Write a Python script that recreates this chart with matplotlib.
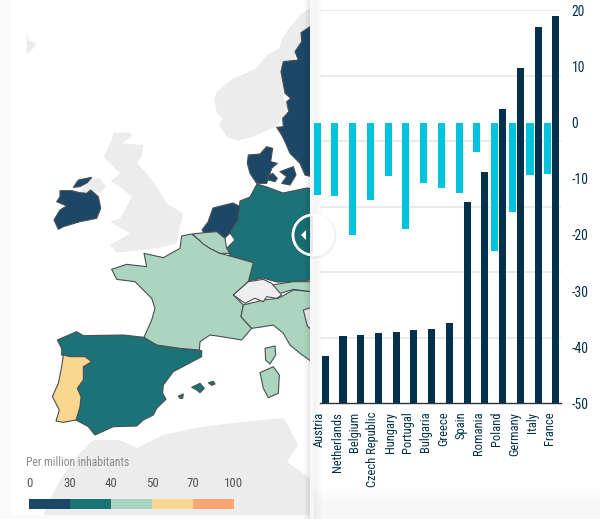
import numpy as np
from matplotlib import pyplot as plt
from matplotlib.patches import Polygon, Rectangle, Circle, Wedge

plt.rcParams['font.family'] = ['Roboto Condensed', 'Liberation Sans Narrow', 'Roboto', 'DejaVu Sans']

# chart data
paises = ['Austria', 'Netherlands', 'Belgium', 'Czech Republic', 'Hungary', 'Portugal', 'Bulgaria',
          'Greece', 'Spain', 'Romania', 'Poland', 'Germany', 'Italy', 'France']
val_cyan = [-12.9, -13.1, -20.0, -13.8, -9.6, -18.9, -10.7, -11.6, -12.6, -5.3, -22.8, -15.9, -9.4, -9.1]
val_dark = [-41.6, -38.1, -37.9, -37.5, -37.3, -37.0, -36.8, -35.75, -14.1, -8.8, 2.5, 9.8, 17.1, 18.9]
y_ticks = [20, 10, 0, -10, -20, -30, -40, -50]

# legend
leg_labels = ['0', '30', '40', '50', '70', '100']
NAVY, TEAL, MINT, SAND, ORANGE, GRAY = '#1c4766', '#1b7277', '#acd5bf', '#fad78e', '#fda673', '#ececec'
leg_cores = [NAVY, TEAL, MINT, SAND, ORANGE]

# map outlines, px of the picture (zoomed crops /3)
def z4(p):
    return [(x / 3, y / 3) for x, y in p]

def z5(p):
    return [(x / 3, y / 3 + 220) for x, y in p]

mapa_cinza = [
    z4([(80, 90), (85, 120), (107, 130), (103, 142), (80, 163)]),
    z4([(930, 25), (905, 40), (870, 80), (845, 120), (838, 145), (800, 165), (770, 205), (700, 235), (650, 275),
        (643, 300), (650, 340), (668, 355), (658, 375), (680, 410), (715, 422), (760, 410), (830, 378), (850, 350),
        (865, 320), (850, 290), (845, 215), (850, 185), (885, 180), (885, 155), (905, 125), (905, 95), (930, 80)]),
    z4([(240, 575), (275, 535), (300, 535), (317, 560), (305, 578), (270, 580), (255, 580)]),
    z4([(340, 398), (392, 398), (395, 410), (365, 430), (430, 435), (425, 470), (410, 490), (440, 520), (470, 560),
        (500, 610), (550, 640), (535, 700), (530, 730), (470, 745), (350, 758), (330, 735), (390, 700), (330, 665),
        (360, 655), (380, 620), (395, 590), (360, 560), (332, 545), (360, 520), (340, 500), (312, 470), (325, 440),
        (335, 420)]),
    [(43, 515), (60, 480), (80, 453), (93, 440), (120, 440), (137, 448), (163, 435), (200, 427), (233, 423),
     (283, 418), (287, 423), (298, 445), (287, 462), (310, 478), (310, 515)],
]
mapa_navy = [
    z4([(930, 80), (903, 98), (905, 125), (885, 155), (895, 180), (850, 185), (843, 215), (855, 280), (872, 295),
        (860, 305), (866, 335), (848, 355), (850, 380), (830, 382), (845, 405), (855, 425), (870, 460), (900, 490),
        (915, 525), (935, 530)]),
    z4([(180, 572), (215, 572), (240, 578), (260, 580), (272, 570), (295, 590), (302, 625), (290, 655), (240, 665),
        (190, 680), (175, 688), (162, 660), (180, 630), (200, 618), (170, 605), (180, 590)]),
    z4([(220, 562), (235, 540), (275, 532), (262, 548), (240, 560)]),
    z4([(745, 465), (780, 462), (800, 440), (818, 445), (812, 485), (832, 490), (815, 505), (800, 550), (770, 550),
        (750, 520), (742, 490)]),
    z4([(802, 530), (818, 520), (832, 535), (825, 545), (805, 540)]),
    z4([(840, 515), (880, 500), (888, 525), (870, 555), (845, 550), (860, 530)]),
    [(213, 208), (233, 203), (241, 207), (240, 217), (238, 220), (230, 233), (225, 238), (217, 232), (204, 233),
     (202, 230), (208, 222)],
]
mapa_teal = [
    [(257, 184), (267, 187), (283, 193), (307, 188), (320, 190), (320, 280), (310, 280), (293, 282), (277, 282),
     (263, 278), (248, 281), (253, 263), (230, 256), (227, 248), (235, 240), (230, 233), (238, 220), (240, 201),
     (250, 197)],
    z5([(172, 360), (230, 335), (250, 347), (370, 345), (432, 352), (470, 375), (540, 385), (605, 392), (605, 410),
        (520, 455), (490, 495), (488, 520), (498, 538), (470, 565), (460, 585), (430, 600), (410, 618), (340, 620),
        (285, 645), (265, 620), (228, 600), (240, 560), (232, 505), (250, 480), (250, 440), (275, 425), (255, 410),
        (210, 410), (185, 405), (185, 385)]),
    z5([(575, 502), (600, 490), (613, 505), (600, 518), (590, 510)]),
    z5([(625, 488), (640, 484), (645, 492), (635, 496)]),
    z5([(535, 528), (550, 522), (548, 535), (540, 535)]),
]
mapa_mint = [
    z5([(545, 48), (575, 42), (595, 58), (630, 85), (660, 100), (690, 108), (760, 128), (745, 185), (700, 225),
        (730, 255), (723, 290), (755, 325), (725, 360), (665, 350), (630, 345), (600, 365), (598, 390), (540, 385),
        (470, 375), (432, 352), (455, 300), (465, 265), (455, 235), (425, 205), (405, 185), (350, 178), (335, 148),
        (380, 133), (440, 140), (432, 100), (490, 113), (540, 85)]),
    z5([(577, 42), (612, 38), (650, 35), (675, 55), (680, 85), (690, 100), (660, 100), (630, 85), (610, 72),
        (595, 58)]),
    z5([(730, 255), (790, 240), (835, 235), (880, 210), (935, 215), (935, 425), (900, 400), (870, 375), (850, 340),
        (820, 315), (790, 320), (755, 325), (723, 290)]),
    z5([(815, 195), (880, 185), (935, 185), (935, 215), (880, 208), (835, 222)]),
    z5([(795, 385), (825, 378), (827, 405), (810, 432), (797, 420)]),
    z5([(780, 458), (820, 440), (838, 465), (835, 520), (805, 533), (790, 505)]),
]
mapa_suica = [
    z5([(700, 225), (745, 185), (790, 178), (815, 190), (845, 225), (830, 235), (800, 230), (790, 245), (765, 235),
        (735, 250)]),
    z5([(910, 270), (935, 262), (935, 330), (922, 318)]),
]
mapa_sand = [
    z5([(190, 405), (210, 410), (255, 410), (275, 425), (250, 440), (250, 480), (232, 505), (243, 530), (240, 560),
        (228, 600), (190, 607), (168, 603), (178, 570), (165, 545), (157, 530), (175, 490), (185, 440)]),
]

W, H = 600, 519
fig = plt.figure(figsize=(W / 100, H / 100), dpi=100, facecolor='white')


def sombra(ax, extent, alpha, vertical=False):
    # black with a fading alpha
    n = len(alpha)
    arr = np.zeros((n, 1, 4)) if vertical else np.zeros((1, n, 4))
    arr[..., 3] = np.array(alpha).reshape(arr.shape[:2])
    ax.imshow(arr, extent=extent, aspect='auto', zorder=5, interpolation='bilinear')


# background + map, axes in picture pixels
bg = fig.add_axes([0, 0, 1, 1], zorder=0)
bg.axis('off')
bg.add_patch(Rectangle((0, 0), 12, H, color='#fafafa', lw=0))
bg.add_patch(Rectangle((0, 515), 312, 4, color='#fafafa', lw=0))

for p in mapa_cinza:
    bg.add_patch(Polygon(p, closed=True, fc=GRAY, ec='none', zorder=1))
for lista, cor in [(mapa_navy, NAVY), (mapa_teal, TEAL), (mapa_mint, MINT), (mapa_suica, '#efefef'), (mapa_sand, SAND)]:
    for p in lista:
        bg.add_patch(Polygon(p, closed=True, fc=cor, ec='#4a4f52', lw=0.8, joinstyle='round', zorder=2))

# shadows and right panel
sombra(bg, (302, 310, H, 0), [0, 0.02, 0.05, 0.09])
bg.add_patch(Rectangle((310, 0), W - 310, H, color='white', lw=0, zorder=4))
bg.add_patch(Rectangle((310, 0), 4, H, color='#f6f6f6', lw=0, zorder=4))
sombra(bg, (314, 326, H, 0), [0.05, 0.025, 0.01, 0])
sombra(bg, (314, W, H, 480), [0, 0.02, 0.03, 0.035], vertical=True)
bg.set_xlim(0, W)
bg.set_ylim(H, 0)

# legend of the map
bg.text(26.5, 463, 'Per million inhabitants', fontsize=8.4, color='#8a8a8a', va='center', ha='left', zorder=6)
leg_x = np.linspace(29.3, 233.7, len(leg_labels))
for i, lab in enumerate(leg_labels):
    bg.text(leg_x[i], 483.5, lab, fontsize=9.3, color='#555555', va='center', ha='center', zorder=6)
for i, cor in enumerate(leg_cores):
    bg.add_patch(Rectangle((leg_x[i], 499.3), leg_x[i + 1] - leg_x[i], 9.4, color=cor, lw=0, zorder=6))

# bars
x0, x1, y0, y1 = 312.4, 560.6, 10.3, 403.3
ax = fig.add_axes([x0 / W, 1 - y1 / H, (x1 - x0) / W, (y1 - y0) / H], zorder=1)
ax.patch.set_alpha(0)
ax.set_xlim(-0.5, 13.5)
ax.set_ylim(-50, 20)
pos = np.arange(len(paises))
ax.hlines(np.linspace(-50, 20, 7)[1:], -0.09, 13.5, color='#e6e6e6', lw=1.2, zorder=1)
ax.bar(pos - 0.226, val_cyan, width=0.395, color='#00c3de', zorder=2)
# dark series rises from the floor of the axis
ax.bar(pos + 0.226, np.array(val_dark) + 50, bottom=-50, width=0.395, color='#03304a', zorder=3)
for s in ['top', 'left', 'right']:
    ax.spines[s].set_visible(False)
ax.spines['bottom'].set_color('#333333')
ax.spines['bottom'].set_linewidth(1.0)
ax.spines['bottom'].set_bounds(-0.09, 13.5)
ax.yaxis.tick_right()
ax.set_yticks(y_ticks)
ax.set_yticklabels(y_ticks, fontsize=9.8, color='#003049')
ax.tick_params(axis='y', length=0, pad=8)
ax.set_xticks(pos - 0.11)
ax.set_xticklabels(paises, rotation=90, fontsize=9, color='#003049', ha='center', va='top')
ax.tick_params(axis='x', length=0, pad=6)

# slider handle
top = fig.add_axes([0, 0, 1, 1], zorder=2)
top.set_xlim(0, W)
top.set_ylim(H, 0)
top.axis('off')
top.patch.set_alpha(0)
top.add_patch(Circle((314, 236), 22.5, fc='black', ec='none', alpha=0.05))
top.add_patch(Wedge((313, 235), 21, -90, 90, fc='white', ec='none'))
top.add_patch(Circle((313, 235), 20, fc='none', ec='white', lw=2))
top.add_patch(Polygon([(301, 235), (306, 230), (306, 240)], closed=True, fc='white', ec='none'))

plt.savefig('out.png', dpi=100, format='png')
